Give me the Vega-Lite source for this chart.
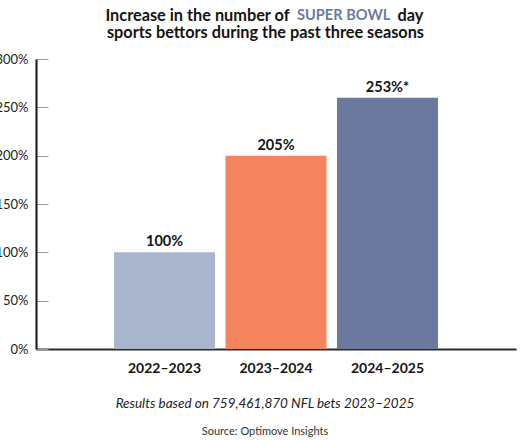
{
  "$schema": "https://vega.github.io/schema/vega-lite/v6.json",
  "width": 480,
  "height": 290,
  "autosize": {"type": "none"},
  "padding": {"left": 36, "top": 59, "right": 14, "bottom": 93},
  "background": "white",
  "config": {"view": {"stroke": null}, "font": "Lato"},
  "title": {
    "text": "Results based on 759,461,870 NFL bets 2023–2025",
    "subtitle": "Source: Optimove Insights",
    "orient": "bottom",
    "anchor": "middle",
    "frame": "group",
    "dx": -11,
    "offset": 22,
    "fontSize": 13.5,
    "fontStyle": "italic",
    "fontWeight": "normal",
    "color": "#222222",
    "subtitleFontSize": 11,
    "subtitleColor": "#333333",
    "subtitlePadding": 15
  },
  "data": {
    "values": [
      {"season": "2022–2023", "value": 100, "label": "100%"},
      {"season": "2023–2024", "value": 200, "label": "205%"},
      {"season": "2024–2025", "value": 260, "label": "253%*"}
    ]
  },
  "encoding": {
    "x": {
      "field": "season",
      "type": "nominal",
      "sort": null,
      "scale": {"paddingInner": 0.094, "paddingOuter": 0.7},
      "axis": {
        "title": "sports bettors during the past three seasons",
        "titleX": 229,
        "titleY": -312,
        "titleAlign": "center",
        "titleAnchor": null,
        "titleBaseline": "alphabetic",
        "titleFontWeight": "bold",
        "titleFontSize": 16.3,
        "titleColor": "#141414",
        "labelAngle": 0,
        "labelFontWeight": "bold",
        "labelFontSize": 14,
        "labelColor": "#141414",
        "labelBaseline": "alphabetic",
        "labelPadding": 23,
        "ticks": false,
        "domainColor": "#2a2a2a",
        "domainWidth": 2
      }
    }
  },
  "layer": [
    {
      "mark": {"type": "bar"},
      "encoding": {
        "y": {
          "field": "value",
          "type": "quantitative",
          "scale": {"domain": [0, 300], "nice": false},
          "axis": {
            "values": [0, 50, 100, 150, 200, 250, 300],
            "labelExpr": "datum.value + '%'",
            "grid": false,
            "domainColor": "#141414",
            "domainWidth": 2,
            "tickColor": "#999999",
            "tickSize": -12,
            "tickWidth": 1,
            "labelPadding": 20,
            "labelFontSize": 13,
            "labelColor": "#222222",
            "title": "Increase in the number of",
            "titleAngle": 0,
            "titleX": 253,
            "titleY": -39,
            "titleAlign": "right",
            "titleAnchor": null,
            "titleBaseline": "alphabetic",
            "titleFontSize": 16.3,
            "titleFontWeight": "bold",
            "titleColor": "#141414"
          }
        },
        "color": {
          "field": "season",
          "type": "nominal",
          "sort": null,
          "scale": {"range": ["#a9b5cc", "#f5845f", "#6a799d"]},
          "legend": {
            "orient": "none",
            "legendX": 261,
            "legendY": -51,
            "title": "SUPER BOWL",
            "titleFontSize": 14.6,
            "titleFontWeight": "bold",
            "titleColor": "#6b7a9f",
            "titlePadding": 0,
            "padding": 0,
            "labelExpr": "''",
            "symbolOpacity": 0,
            "symbolSize": 0,
            "symbolStrokeWidth": 0,
            "direction": "horizontal"
          }
        }
      }
    },
    {
      "mark": {"type": "text", "dy": -6, "baseline": "alphabetic", "fontSize": 14.5, "fontWeight": "bold", "color": "#141414"},
      "encoding": {
        "y": {
          "field": "value",
          "type": "quantitative",
          "scale": {"domain": [0, 300], "nice": false},
          "axis": {
            "orient": "right",
            "domain": false,
            "ticks": false,
            "labels": false,
            "grid": false,
            "title": "day",
            "titleAngle": 0,
            "titleX": -119,
            "titleY": -39,
            "titleAlign": "left",
            "titleAnchor": null,
            "titleBaseline": "alphabetic",
            "titleFontSize": 16.3,
            "titleFontWeight": "bold",
            "titleColor": "#141414"
          }
        },
        "text": {"field": "label"}
      }
    }
  ],
  "resolve": {"axis": {"y": "independent"}}
}
